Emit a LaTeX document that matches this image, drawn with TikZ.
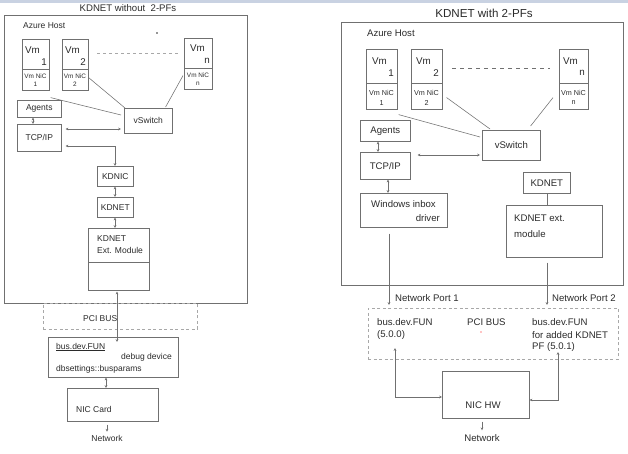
\documentclass[tikz,border=0pt]{standalone}
\usepackage{fontspec}
\setmainfont{Liberation Sans}
\usetikzlibrary{arrows.meta,calc}
\definecolor{edge}{HTML}{707070}
\definecolor{ink}{HTML}{2B2B2B}
\definecolor{band}{HTML}{C9D2E2}
\definecolor{dash}{HTML}{A8A8A8}
\newcommand{\fontL}{\fontsize{8.5}{10}\selectfont}
\newcommand{\fontR}{\fontsize{9.6}{11}\selectfont}
\newcommand{\fontVm}{\fontsize{9.8}{11}\selectfont}
\newcommand{\fontNicL}{\fontsize{6.4}{7}\selectfont}
\newcommand{\fontNicR}{\fontsize{7.2}{8}\selectfont}
\begin{document}
\begin{tikzpicture}[x=1pt,y=-1pt,
  box/.style={draw=edge,line width=0.6pt,anchor=north west,inner sep=0pt,text=ink},
  dbox/.style={draw=dash,line width=0.7pt,dash pattern=on 3pt off 2.5pt,anchor=north west,inner sep=0pt},
  lbl/.style={inner sep=0pt,text=ink},
  wire/.style={draw=edge,line width=0.55pt},
  both/.style={wire,{Stealth[length=2.8pt,width=2.6pt]}-{Stealth[length=2.8pt,width=2.6pt]}},
  fwd/.style={wire,-{Stealth[length=2.8pt,width=2.6pt]}}]
\useasboundingbox (0,0) rectangle (628,454);
\fill[white] (0,0) rectangle (628,454);
\fill[band] (0,0) rectangle (628,3);

% ================= LEFT =================
\node[lbl,font=\fontsize{9.6}{11}\selectfont] (t1) at (128,8) {KDNET without\ \ 2-PFs};
\node[box,minimum width=243,minimum height=288] (h1) at (4,15) {};
\node[lbl,anchor=west,font=\fontL] (az1) at (23,26) {Azure Host};
\fill[ink] (157,33) circle (0.9);

\node[box,minimum width=27,minimum height=51] (avm1) at (22,39) {};
\node[box,minimum width=26,minimum height=51] (avm2) at (62,39) {};
\node[box,minimum width=28,minimum height=51] (avmn) at (184,38) {};
\foreach \v in {avm1,avm2,avmn}{\draw[edge,line width=0.6pt] ($(\v.north west)+(0,30)$) -- ($(\v.north east)+(0,30)$);}
\node[lbl,anchor=west,font=\fontVm] at (25,50) {Vm};
\node[lbl,anchor=east,font=\fontVm] at (47,62) {1};
\node[lbl,font=\fontNicL] at (35.5,76) {Vm NiC};
\node[lbl,font=\fontNicL] at (35.5,84) {1};
\node[lbl,anchor=west,font=\fontVm] at (65,50) {Vm};
\node[lbl,anchor=east,font=\fontVm] at (86,62) {2};
\node[lbl,font=\fontNicL] at (75,76) {Vm NiC};
\node[lbl,font=\fontNicL] at (75,84) {2};
\node[lbl,anchor=west,font=\fontVm] at (190,48) {Vm};
\node[lbl,anchor=east,font=\fontVm] at (210,61) {n};
\node[lbl,font=\fontNicL] at (198,75) {Vm NiC};
\node[lbl,font=\fontNicL] at (198,84) {n};
\coordinate (ad1) at (97,53);
\coordinate (ad2) at (178,53);
\draw[draw=dash,line width=0.7pt,dash pattern=on 3pt off 3pt] (ad1) -- (ad2);

\node[box,minimum width=44,minimum height=17,font=\fontL] (aag) at (17,100) {Agents};
\node[box,minimum width=44,minimum height=27,font=\fontL] (atcp) at (17,124) {TCP/IP};
\node[box,minimum width=48,minimum height=25,font=\fontL] (avs) at (124,108) {vSwitch};
\node[box,minimum width=36,minimum height=20,font=\fontL] (akdnic) at (97,166) {KDNIC};
\node[box,minimum width=36,minimum height=20,font=\fontL] (akdnet) at (97,197) {KDNET};
\node[box,minimum width=61,minimum height=62] (aext) at (88,228) {};
\draw[edge,line width=0.8pt] ($(aext.north west)+(0,34)$) -- ($(aext.north east)+(0,34)$);
\node[lbl,anchor=west,font=\fontL] at (97,239) {KDNET};
\node[lbl,anchor=west,font=\fontL] at (97,250) {Ext. Module};

\node[dbox,minimum width=154,minimum height=26] (apci) at (43,303) {};
\node[lbl,anchor=west,font=\fontL] at (83,319) {PCI BUS};
\node[box,minimum width=130,minimum height=40] (abus) at (48,337) {};
\node[lbl,anchor=west,font=\fontL] at (56,347) {\underline{bus.dev.FUN}};
\node[lbl,anchor=east,font=\fontL] at (172,357) {debug device};
\node[lbl,anchor=west,font=\fontL] at (56,369) {dbsettings::busparams};
\node[box,minimum width=91,minimum height=33] (anic) at (67,388) {};
\node[lbl,anchor=west,font=\fontL] at (76,409) {NIC Card};
\node[lbl,font=\fontL] (anet) at (107,438) {Network};

% left connectors
\draw[wire] ($(avm1.south east)+(1,7)$) -- ($(avs.north west)+(-3,7)$);
\draw[wire] ($(avm2.south east)+(0,-13)$) -- ($(avs.north west)+(1,0)$);
\draw[wire] ($(avmn.south west)+(-1,-14)$) -- ($(avs.north east)+(-7,-1)$);
\draw[both] ($(aag.south west)+(16,0)$) -- ($(atcp.north west)+(16,0)$);
\draw[both] ($(atcp.north east)+(4,5)$) -- ($(avs.north west)+(-3,21)$);
\draw[both] ($(atcp.north east)+(4,22)$) -| ($(akdnic.north west)+(18,0)$);
\draw[both] ($(akdnic.south west)+(18,0)$) -- ($(akdnet.north west)+(18,0)$);
\draw[both] ($(akdnet.south west)+(18,0)$) -- ($(aext.north west)+(27,0)$);
\draw[both] ($(aext.south west)+(29,1)$) -- ($(abus.north west)+(69,5)$);
\draw[both] ($(abus.south west)+(58,0)$) -- ($(anic.north west)+(39,0)$);
\draw[fwd] ($(anic.south west)+(40,3)$) -- ($(anet.north)+(0,-3)$);

% ================= RIGHT =================
\node[lbl,font=\fontsize{11.6}{13}\selectfont] (t2) at (484,13) {KDNET with 2-PFs};
\node[box,minimum width=282,minimum height=263] (h2) at (341,22) {};
\node[lbl,anchor=west,font=\fontR] (az2) at (367,33) {Azure Host};

\node[box,minimum width=31,minimum height=60] (bvm1) at (366,49) {};
\node[box,minimum width=31,minimum height=60] (bvm2) at (411,49) {};
\node[box,minimum width=29,minimum height=60] (bvmn) at (559,49) {};
\foreach \v in {bvm1,bvm2,bvmn}{\draw[edge,line width=0.6pt] ($(\v.north west)+(0,34)$) -- ($(\v.north east)+(0,34)$);}
\node[lbl,anchor=west,font=\fontVm] at (372,61) {Vm};
\node[lbl,anchor=east,font=\fontVm] at (394,73) {1};
\node[lbl,font=\fontNicR] at (381.5,93) {Vm NiC};
\node[lbl,font=\fontNicR] at (381.5,103) {1};
\node[lbl,anchor=west,font=\fontVm] at (416,61) {Vm};
\node[lbl,anchor=east,font=\fontVm] at (439,73) {2};
\node[lbl,font=\fontNicR] at (426.5,93) {Vm NiC};
\node[lbl,font=\fontNicR] at (426.5,103) {2};
\node[lbl,anchor=west,font=\fontVm] at (563,61) {Vm};
\node[lbl,anchor=east,font=\fontVm] at (585,73) {n};
\node[lbl,font=\fontNicR] at (573.5,93) {Vm NiC};
\node[lbl,font=\fontNicR] at (573.5,103) {n};
\coordinate (bd1) at (452,68);
\coordinate (bd2) at (550,68);
\draw[draw=edge,line width=0.6pt,dash pattern=on 4pt off 4pt] (bd1) -- (bd2);

\node[box,minimum width=50,minimum height=21,font=\fontR] (bag) at (360,120) {Agents};
\node[box,minimum width=50,minimum height=27,font=\fontR] (btcp) at (360,152) {TCP/IP};
\node[box,minimum width=58,minimum height=30,font=\fontR] (bvs) at (482,130) {vSwitch};
\node[box,minimum width=87,minimum height=34] (bwin) at (360,193) {};
\node[lbl,font=\fontR] at (403.5,204) {Windows inbox};
\node[lbl,anchor=east,font=\fontR] at (440,218) {driver};
\node[box,minimum width=47,minimum height=21,font=\fontR] (bkdnet) at (523,172) {KDNET};
\node[box,minimum width=96,minimum height=52] (bext) at (506,205) {};
\node[lbl,anchor=west,font=\fontR] at (514,218) {KDNET ext.};
\node[lbl,anchor=west,font=\fontR] at (514,234) {module};

\node[dbox,minimum width=250,minimum height=51] (bpci) at (368,308) {};
\node[lbl,anchor=west,font=\fontR] (np1) at (395,298) {Network Port 1};
\node[lbl,anchor=west,font=\fontR] (np2) at (552,298) {Network Port 2};
\node[lbl,anchor=west,font=\fontR] at (377,322) {bus.dev.FUN};
\node[lbl,anchor=west,font=\fontR] at (377,335) {(5.0.0)};
\node[lbl,anchor=west,font=\fontR] at (467,322) {PCI BUS};
\fill[red] (481,332) circle (0.6);
\node[lbl,anchor=west,font=\fontR] at (532,322) {bus.dev.FUN};
\node[lbl,anchor=west,font=\fontR] at (532,335) {for added KDNET};
\node[lbl,anchor=west,font=\fontR] at (532,347) {PF (5.0.1)};
\node[box,minimum width=87,minimum height=47] (bnic) at (442,371) {};
\node[lbl,font=\fontR] at (483,405) {NIC HW};
\node[lbl,font=\fontR] (bnet) at (482,438) {Network};

% right connectors
\draw[wire] ($(bvm1.south east)+(1,5)$) -- ($(bvs.north west)+(-2,7)$);
\draw[wire] ($(bvm2.south east)+(4,-12)$) -- ($(bvs.north west)+(8,-1)$);
\draw[wire] ($(bvmn.south west)+(-6,-12)$) -- ($(bvs.north east)+(-10,-4)$);
\draw[both] ($(bag.south west)+(18,0)$) -- ($(btcp.north west)+(18,0)$);
\draw[both] ($(btcp.north east)+(7,3)$) -- ($(bvs.north west)+(-2,25)$);
\draw[both] ($(btcp.south west)+(28,0)$) -- ($(bwin.north west)+(28,0)$);
\draw[wire] ($(bkdnet.south west)+(24,0)$) -- ($(bext.north west)+(41,0)$);
\draw[fwd] ($(bwin.south west)+(29,6)$) -- ($(bpci.north west)+(21,-3)$);
\draw[fwd] ($(bext.south west)+(41,5)$) -- ($(bpci.north west)+(179,-3)$);
\draw[both] ($(bpci.north west)+(27,40)$) |- ($(bnic.north west)+(0,26)$);
\draw[both] ($(bpci.north west)+(190,44)$) |- ($(bnic.north east)+(0,29)$);
\draw[fwd] ($(bnic.south west)+(40,3)$) -- ($(bnet.north)+(0,-4)$);
\end{tikzpicture}
\end{document}
